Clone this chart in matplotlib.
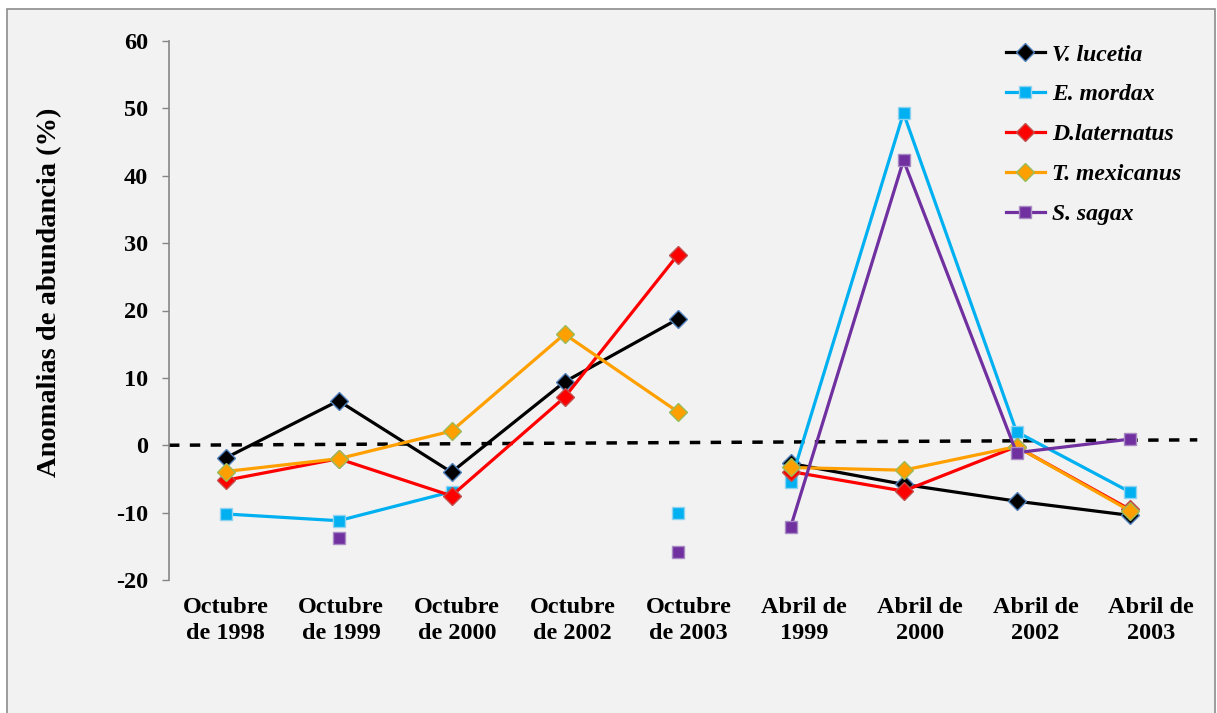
import numpy as np
import matplotlib.pyplot as plt
from matplotlib.patches import Rectangle

# campaign labels (two lines each)
campaigns = ["Octubre\nde 1998", "Octubre\nde 1999", "Octubre\nde 2000",
             "Octubre\nde 2002", "Octubre\nde 2003", "Abril de\n1999",
             "Abril de\n2000", "Abril de\n2002", "Abril de\n2003"]

# abundance anomalies (%); nan = no value
v_lucetia = [-1.9, 6.6, -4.0, 9.4, 18.7, -2.7, -5.8, -8.3, -10.4]
e_mordax = [-10.2, -11.2, -6.9, np.nan, -10.0, -5.5, 49.3, 2.0, -6.9]
d_laternatus = [-5.2, -2.0, -7.5, 7.1, 28.2, -3.9, -6.8, -0.2, -9.5]
t_mexicanus = [-3.9, -2.0, 2.1, 16.5, 5.0, -3.3, -3.7, -0.2, -9.7]
s_sagax = [np.nan, -13.7, np.nan, np.nan, -15.8, -12.2, 42.3, -1.1, 0.9]

# reference line (drawn slightly tilted in the original)
ref_x = [-0.5, 8.6]
ref_y = [0.0, 0.8]

series = [
    ("V. lucetia", v_lucetia, "black", "D", "#4f81bd", 9),
    ("E. mordax", e_mordax, "#00b0f0", "s", "#8fd3f0", 8),
    ("D.laternatus", d_laternatus, "red", "D", "#c0504d", 9),
    ("T. mexicanus", t_mexicanus, "#ffa000", "D", "#9bbb59", 9),
    ("S. sagax", s_sagax, "#7030a0", "s", "#a98bc4", 8),
]

plt.rcParams['font.family'] = ['Liberation Serif', 'DejaVu Serif']
plt.rcParams['font.weight'] = 'bold'
plt.rcParams['axes.unicode_minus'] = False

fig = plt.figure(figsize=(12.17, 7.13), dpi=100)
fig.patches.append(Rectangle((7 / 1217, -0.01), 1208 / 1217, 1 - 9 / 713 + 0.01,
                             transform=fig.transFigure, facecolor="#f2f2f2",
                             edgecolor="#8c8c8c", linewidth=1.2, zorder=-10))

ax = fig.add_axes([169 / 1217, 1 - 580 / 713, (1186 - 169) / 1217, (580 - 41) / 713])
ax.patch.set_alpha(0)

x = np.arange(len(campaigns))
handles = []
for name, vals, col, mk, ec, ms in series:
    vals = np.array(vals, dtype=float)
    # October and April campaigns are drawn as separate lines
    for part in (slice(0, 5), slice(5, 9)):
        h, = ax.plot(x[part], vals[part], color=col, lw=2.3, marker=mk, ms=ms,
                     markerfacecolor=col, markeredgecolor=ec, markeredgewidth=1.0,
                     label=name, zorder=3)
    handles.append(h)

ax.plot(ref_x, ref_y, color="black", lw=2.5, dashes=(3, 3), zorder=2, clip_on=False)

ax.set_xlim(-0.5, 8.5)
ax.set_ylim(-20, 60)
ax.set_yticks(range(-20, 61, 10))
ax.set_xticks(x * 1.024)
ax.set_xticklabels(campaigns, fontsize=17.5, fontweight="bold", linespacing=1.35)
ax.tick_params(axis="x", length=0, pad=12)
ax.tick_params(axis="y", length=5, width=1, color="#868686", labelsize=17.5, pad=10)
for t in ax.get_yticklabels():
    t.set_fontweight("bold")

for s in ["top", "right", "bottom"]:
    ax.spines[s].set_visible(False)
ax.spines["left"].set_color("#868686")
ax.spines["left"].set_linewidth(1.2)

fig.text(50 / 1217, 1 - 292 / 713, "Anomalias de abundancia (%)", rotation=90,
         ha="center", va="center", fontsize=20.5, fontweight="bold")

ax.legend(handles=handles, loc="upper left", bbox_to_anchor=(1006 / 1217, 1 - 44 / 713),
          bbox_transform=fig.transFigure, frameon=False, numpoints=1,
          prop={"size": 17, "weight": "bold", "style": "italic"},
          handlelength=1.65, handletextpad=0.3, labelspacing=0.78,
          borderpad=0, borderaxespad=0)

fig.savefig("out.png", dpi=100, facecolor="white")
